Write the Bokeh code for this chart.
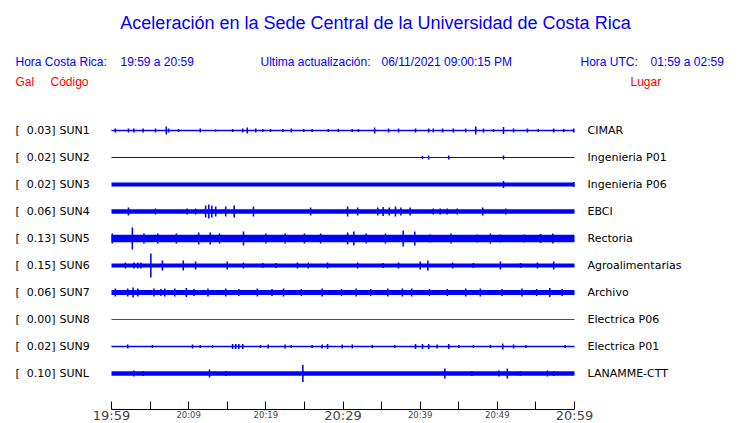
from bokeh.plotting import figure
from bokeh.models import Range1d, LinearAxis, FixedTicker, ColumnDataSource
from bokeh.core.properties import value
from bokeh.embed import file_html
from bokeh.resources import INLINE

# ---------------- data ----------------
CODES = ["SUN1", "SUN2", "SUN3", "SUN4", "SUN5", "SUN6", "SUN7", "SUN8", "SUN9", "SUNL"]
PEAKS = [0.03, 0.02, 0.02, 0.06, 0.13, 0.15, 0.06, 0.00, 0.02, 0.10]
PLACES = ["CIMAR", "Ingenieria P01", "Ingenieria P06", "EBCI", "Rectoria",
          "Agroalimentarias", "Archivo", "Electrica P06", "Electrica P01", "LANAMME-CTT"]
# background noise half-amplitude of each trace (display units)
NOISE = [0.7, 0.6, 2.0, 2.2, 3.8, 2.1, 2.6, 0.6, 0.7, 2.2]
# bursts: minutes after 19:59 and half-amplitude (display units)
SUN1_T = [0.5, 2.2, 2.9, 4.1, 5.7, 7.1, 7.4, 8.7, 11.5, 13.5, 15.7, 17.0, 17.6, 18.7, 19.6, 20.6,
          22.2, 23.3, 24.9, 26.0, 28.1, 29.4, 31.2, 32.0, 34.1, 35.9, 37.2, 39.4, 41.1, 41.7,
          42.9, 44.3, 45.9, 47.2, 48.2, 49.5, 50.8, 52.1, 53.9, 55.3, 57.3, 58.6, 59.9]
SUN1_A = [2, 2, 2, 2, 2, 4, 2, 1.5, 2, 1, 1.5, 2, 3, 2, 1.5, 1.5,
          1.5, 2, 1.5, 1.5, 1.5, 1.5, 1.5, 1.5, 3, 2, 2, 2, 2, 2,
          2, 2, 2, 4, 2, 1.5, 3.5, 2, 2, 1.5, 2, 1.5, 2]
SUN2_T = [40.3, 41.1, 43.7, 50.8]
SUN2_A = [1.5, 2, 2, 2]
SUN3_T = [50.8, 59.9]
SUN3_A = [3.5, 2.5]
SUN4_T = [2.2, 5.7, 9.8, 10.9, 12.2, 12.6, 13.0, 13.5, 14.8, 15.9, 18.4, 25.8, 30.6, 31.9,
          34.5, 35.2, 36.0, 36.8, 37.5, 38.7, 41.7, 42.6, 43.5, 44.8, 48.1, 51.1]
SUN4_A = [4, 3, 3, 3, 6, 7, 6, 5, 5, 6, 5, 4, 5, 4,
          4, 4.5, 4, 5, 4, 4, 3, 3, 3, 3, 4, 3]
SUN5_T = [0.1, 2.7, 4.2, 6.0, 8.4, 11.3, 12.8, 14.0, 17.1, 20.0, 22.5, 25.0, 27.1, 30.6, 31.4,
          33.0, 35.5, 37.8, 39.3, 41.3, 44.0, 47.4, 49.1, 50.4, 53.5, 55.6, 57.2]
SUN5_A = [5, 11, 5, 5, 5, 6, 6, 5, 7, 5, 5, 5, 5, 6, 7,
          5, 5, 8, 7, 4, 5, 4, 5, 4, 4, 4.5, 5]
SUN6_T = [1.8, 2.9, 3.4, 3.8, 5.1, 6.6, 9.3, 10.9, 15.0, 17.1, 19.6, 21.3, 24.1, 25.5, 28.0,
          31.9, 35.2, 37.2, 40.0, 41.0, 44.2, 46.9, 50.4, 53.0, 55.2, 57.3]
SUN6_A = [3, 3, 3, 3, 12, 5, 5, 4, 4, 3, 2.5, 2.5, 3, 3, 3,
          3, 2.5, 3, 4, 5, 3, 2.5, 4, 2.5, 3, 4]
SUN7_T = [0.5, 2.1, 2.8, 3.4, 5.5, 6.4, 6.9, 8.2, 9.7, 10.7, 12.5, 14.8, 16.5, 18.9, 20.8,
          22.3, 24.6, 27.3, 29.8, 31.7, 33.6, 35.8, 37.7, 38.9, 41.2, 43.5, 45.9, 47.8,
          50.6, 53.2, 55.1, 56.8, 58.4]
SUN7_A = [4, 4, 5, 4, 4, 3.5, 4, 4, 4.5, 3.5, 4, 4, 3.5, 4, 3.5,
          4, 3.5, 4, 3.5, 4, 3.5, 4, 4, 4, 3.5, 3.5, 4, 4,
          3.5, 4, 3.5, 4.5, 3.5]
SUN8_T = []
SUN8_A = []
SUN9_T = [2.1, 5.3, 10.5, 11.5, 13.1, 15.7, 16.1, 16.5, 17.0, 19.3, 20.3, 22.5, 23.3, 26.0,
          27.3, 28.0, 29.9, 31.2, 33.8, 36.7, 39.4, 40.3, 41.1, 42.2, 43.7, 45.0, 46.9,
          49.1, 50.7, 52.1, 53.7, 58.8]
SUN9_A = [2, 1.5, 2, 1.5, 1.5, 2.5, 2.5, 2.5, 2.5, 1.5, 2, 2, 1.5, 1.5,
          2, 2.5, 2, 2, 1.5, 1.5, 2.5, 2.5, 2.5, 2, 2.5, 1.5, 1.5,
          1.5, 3, 2, 1.5, 1.5]
SUNL_T = [2.9, 4.1, 12.7, 14.8, 24.8, 43.2, 46.7, 50.2, 51.3, 53.0, 56.5, 57.3]
SUNL_A = [3, 2.5, 4, 2.5, 8.5, 5, 2.5, 3, 5, 2.5, 3, 2.5]

BURST_T = [SUN1_T, SUN2_T, SUN3_T, SUN4_T, SUN5_T, SUN6_T, SUN7_T, SUN8_T, SUN9_T, SUNL_T]
BURST_A = [SUN1_A, SUN2_A, SUN3_A, SUN4_A, SUN5_A, SUN6_A, SUN7_A, SUN8_A, SUN9_A, SUNL_A]

TICKS = [0, 5, 10, 15, 20, 25, 30, 35, 40, 45, 50, 55, 60]
MINOR_LABELS = {10: "20:09", 20: "20:19", 40: "20:39", 50: "20:49"}
MAJOR_LABELS = {0: "19:59", 30: "20:29", 60: "20:59"}

TITLE = "Aceleración en la Sede Central de la Universidad de Costa Rica"

# ---------------- layout helpers ----------------
FW, FH = 740, 409     # frame size (axis line at bottom of frame)
PX_PER_MIN = 463 / 60.0
X0 = 111.0            # px of minute 0
ROW0, ROWSTEP = 130.0, 27.0


def xd(wx):
    return (wx - X0) / PX_PER_MIN


def yd(wy):
    return (ROW0 - wy) / ROWSTEP


AMP = 1.0 / ROWSTEP

p = figure(frame_width=FW, frame_height=FH, output_backend="svg", toolbar_location=None,
           x_range=Range1d(xd(0), xd(FW)), y_range=Range1d(yd(FH), yd(0)),
           min_border_left=0, min_border_right=0, min_border_top=0,
           min_border_bottom=0, x_axis_type=None, y_axis_type=None)
p.outline_line_color = None
p.grid.visible = False
p.background_fill_color = "white"
p.border_fill_color = "white"

rows = [-i for i in range(len(CODES))]
colors = ["blue" if c != "SUN8" else "red" for c in CODES]

# noise bands
p.hbar(y=rows, left=0, right=60, height=[2 * n * AMP for n in NOISE],
       color=colors, line_color=None)

# bursts
bx, btop, bbot, bcol = [], [], [], []
for r, ts, amps, c in zip(rows, BURST_T, BURST_A, colors):
    for t, a in zip(ts, amps):
        bx.append(t)
        btop.append(r + a * AMP)
        bbot.append(r - a * AMP)
        bcol.append(c)
p.vbar(x="x", top="top", bottom="bottom", width=0.2, color="c", line_color=None,
       source=ColumnDataSource(dict(x=bx, top=btop, bottom=bbot, c=bcol)))

# row labels
lf = value("DejaVu Sans")
p.text(x=[xd(15)] * len(rows), y=rows, text=["["] * len(rows), text_font=lf,
       text_font_size="11px", text_baseline="middle", text_color="black")
p.text(x=[xd(55)] * len(rows), y=rows, text=["%.2f]" % v for v in PEAKS], text_font=lf,
       text_font_size="11px", text_baseline="middle", text_align="right", text_color="black")
p.text(x=[xd(59)] * len(rows), y=rows, text=CODES, text_font=lf,
       text_font_size="11px", text_baseline="middle", text_color="black")
p.text(x=[xd(587)] * len(rows), y=rows, text=PLACES, text_font=lf,
       text_font_size="11px", text_baseline="middle", text_color="black")

# header texts
hf = value("Liberation Sans")
p.text(x=[xd(375)], y=[yd(22)], text=[TITLE], text_font=hf, text_font_size="18px",
       text_align="center", text_baseline="middle", text_color="blue")
hx = [15, 120, 260, 381, 580, 650]
ht = ["Hora Costa Rica:", "19:59 a 20:59", "Ultima actualización:",
      "06/11/2021 09:00:15 PM", "Hora UTC:", "01:59 a 02:59"]
p.text(x=[xd(v) for v in hx], y=[yd(61)] * len(hx), text=ht, text_font=hf,
       text_font_size="12px", text_baseline="middle", text_color="blue")
p.text(x=[xd(15), xd(50), xd(630)], y=[yd(81)] * 3, text=["Gal", "Código", "Lugar"],
       text_font=hf, text_font_size="12px", text_baseline="middle", text_color="red")

# time axis (ticks every 5 min, small labels)
ax = LinearAxis(ticker=FixedTicker(ticks=TICKS), bounds=(0, 60))
ax.major_label_overrides = {t: MINOR_LABELS.get(t, "") for t in TICKS}
ax.major_tick_in = 8
ax.major_tick_out = 0
ax.minor_tick_line_color = None
ax.axis_line_color = "black"
ax.major_tick_line_color = "black"
ax.major_label_text_font = "DejaVu Sans"
ax.major_label_text_font_size = "8.5px"
ax.major_label_standoff = 0
p.add_layout(ax, "below")

ax2 = LinearAxis(ticker=FixedTicker(ticks=list(MAJOR_LABELS.keys())), bounds=(0, 60))
ax2.major_label_overrides = MAJOR_LABELS
ax2.axis_line_color = None
ax2.major_tick_line_color = None
ax2.minor_tick_line_color = None
ax2.major_tick_in = 0
ax2.major_tick_out = 0
ax2.major_label_text_font = "DejaVu Sans"
ax2.major_label_text_font_size = "13px"
ax2.major_label_standoff = -15
p.add_layout(ax2, "below")

open("out.html", "w").write(file_html(p, INLINE))
